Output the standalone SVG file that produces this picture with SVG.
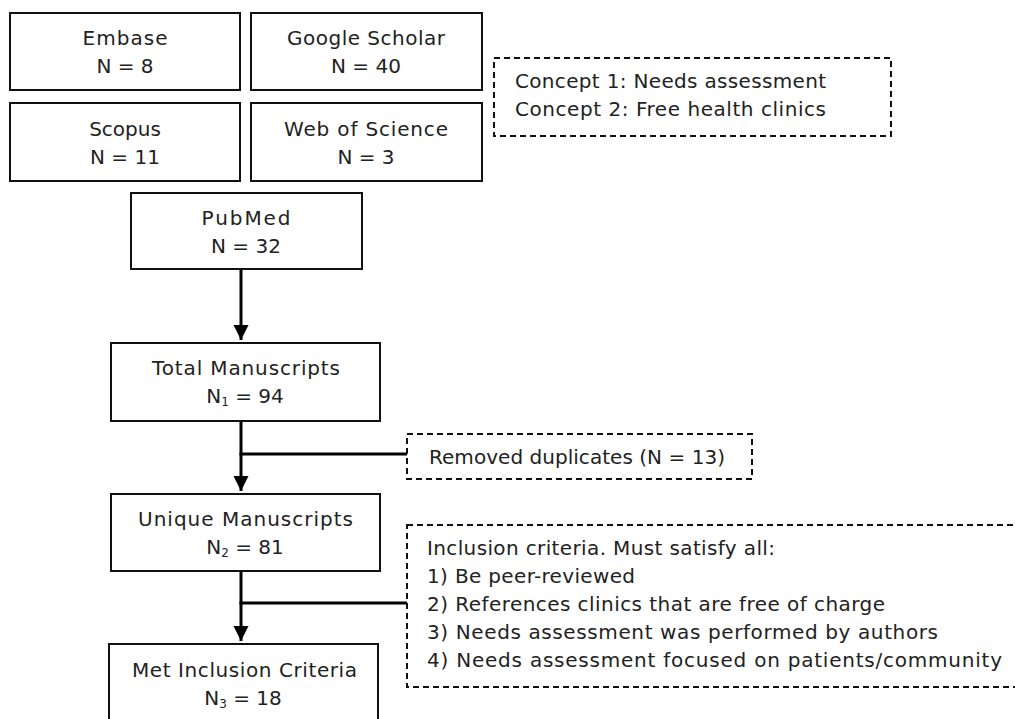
<svg xmlns="http://www.w3.org/2000/svg" width="1015" height="719" viewBox="0 0 1015 719">
<defs>
<style>
.box{fill:#fff;stroke:#111;stroke-width:2}
.dash{fill:#fff;stroke:#111;stroke-width:2;stroke-dasharray:6 4}
text{font-family:"DejaVu Sans","Open Sans",sans-serif;font-size:20px;fill:#222}
.c{text-anchor:middle}
.sub{font-size:12px}
.conn{fill:none;stroke:#000;stroke-width:3}
</style>
<marker id="ah" markerWidth="6" markerHeight="6" refX="5" refY="3" orient="auto" markerUnits="strokeWidth"><path d="M0,0.5 L5,3 L0,5.5 Z" fill="#000"/></marker>
</defs>
<rect width="1015" height="719" fill="#fff"/>
<g id="connectors">
<line class="conn" x1="241" y1="269" x2="241" y2="340" marker-end="url(#ah)"/>
<line class="conn" x1="241" y1="421" x2="241" y2="491" marker-end="url(#ah)"/>
<line class="conn" x1="239.5" y1="454" x2="407" y2="454"/>
<line class="conn" x1="241" y1="571" x2="241" y2="641" marker-end="url(#ah)"/>
<line class="conn" x1="239.5" y1="603" x2="407" y2="603"/>
</g>
<g id="embase"><rect class="box" x="10" y="13" width="230" height="77"/><text class="c" x="125" y="45" textLength="85" lengthAdjust="spacing">Embase</text><text class="c" x="125" y="73">N = 8</text></g>
<g id="google"><rect class="box" x="251" y="13" width="231" height="77"/><text class="c" x="366" y="45" textLength="158" lengthAdjust="spacing">Google Scholar</text><text class="c" x="366" y="73">N = 40</text></g>
<g id="scopus"><rect class="box" x="10" y="103" width="230" height="78"/><text class="c" x="125" y="136">Scopus</text><text class="c" x="125" y="164">N = 11</text></g>
<g id="wos"><rect class="box" x="251" y="103" width="231" height="78"/><text class="c" x="366" y="136" textLength="164" lengthAdjust="spacing">Web of Science</text><text class="c" x="366" y="164">N = 3</text></g>
<g id="concepts"><rect class="dash" x="494" y="58" width="397" height="78"/><text x="515" y="88" textLength="311" lengthAdjust="spacing">Concept 1: Needs assessment</text><text x="515" y="116" textLength="311" lengthAdjust="spacing">Concept 2: Free health clinics</text></g>
<g id="pubmed"><rect class="box" x="131" y="193" width="231" height="76"/><text class="c" x="246" y="225" textLength="89" lengthAdjust="spacing">PubMed</text><text class="c" x="246" y="253">N = 32</text></g>
<g id="total"><rect class="box" x="111" y="343" width="269" height="78"/><text class="c" x="246" y="375" textLength="188" lengthAdjust="spacing">Total Manuscripts</text><text class="c" x="245" y="403">N<tspan class="sub" dy="3">1</tspan><tspan dy="-3"> = 94</tspan></text></g>
<g id="duplicates"><rect class="dash" x="407" y="434" width="345" height="45"/><text x="429" y="464" textLength="296" lengthAdjust="spacing">Removed duplicates (N = 13)</text></g>
<g id="unique"><rect class="box" x="111" y="494" width="269" height="77"/><text class="c" x="245.5" y="526" textLength="215" lengthAdjust="spacing">Unique Manuscripts</text><text class="c" x="245" y="554">N<tspan class="sub" dy="3">2</tspan><tspan dy="-3"> = 81</tspan></text></g>
<g id="criteria"><rect class="dash" x="407" y="525" width="620" height="162"/>
<text x="427" y="555" textLength="348" lengthAdjust="spacing">Inclusion criteria. Must satisfy all:</text>
<text x="427" y="583" textLength="208" lengthAdjust="spacing">1) Be peer-reviewed</text>
<text x="427" y="611" textLength="458" lengthAdjust="spacing">2) References clinics that are free of charge</text>
<text x="427" y="639" textLength="511" lengthAdjust="spacing">3) Needs assessment was performed by authors</text>
<text x="427" y="667" textLength="575" lengthAdjust="spacing">4) Needs assessment focused on patients/community</text></g>
<g id="met"><rect class="box" x="109" y="644" width="269" height="90"/><text class="c" x="244.5" y="677" textLength="225" lengthAdjust="spacing">Met Inclusion Criteria</text><text class="c" x="243" y="705">N<tspan class="sub" dy="3">3</tspan><tspan dy="-3"> = 18</tspan></text></g>
</svg>
